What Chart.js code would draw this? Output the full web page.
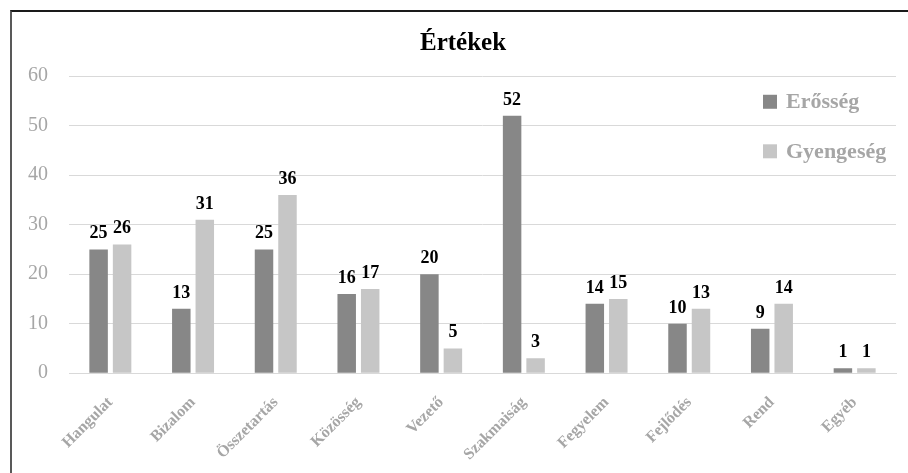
<!DOCTYPE html>
<html>
<head>
<meta charset="utf-8">
<script src="https://cdn.jsdelivr.net/npm/chart.js@4/dist/chart.umd.min.js"></script>
<style>
  html, body { margin: 0; padding: 0; background: #ffffff; overflow: hidden; }
  #wrap { position: relative; width: 908px; height: 473px; overflow: hidden; }
  #frame { position: absolute; left: 10px; top: 10px; width: 1000px; height: 600px;
           border-left: 2px solid #595959; border-top: 2px solid #1a1a1a; box-sizing: border-box; pointer-events: none; }
  canvas { position: absolute; left: 0; top: 0; }
</style>
</head>
<body>
<div id="wrap">
  <canvas id="c" width="908" height="490"></canvas>
  <div id="frame"></div>
</div>
<script>
const categories = ["Hangulat", "Bizalom", "Összetartás", "Közösség", "Vezető", "Szakmaiság", "Fegyelem", "Fejlődés", "Rend", "Egyéb"];
const seriesNames = ["Erősség", "Gyengeség"];
const strengthValues = [25, 13, 25, 16, 20, 52, 14, 10, 9, 1];
const weaknessValues = [26, 31, 36, 17, 5, 3, 15, 13, 14, 1];
const yTicks = [0, 10, 20, 30, 40, 50, 60];
const chartTitle = "Értékek";

const SERIF = '"Liberation Serif", "Times New Roman", serif';
const colors = ["#878787", "#c6c6c6"];

const valueLabels = {
  id: 'valueLabels',
  afterDatasetsDraw(chart) {
    const ctx = chart.ctx;
    ctx.save();
    ctx.font = 'bold 18px ' + SERIF;
    ctx.fillStyle = '#000000';
    ctx.textAlign = 'center';
    ctx.textBaseline = 'alphabetic';
    chart.data.datasets.forEach((ds, di) => {
      const meta = chart.getDatasetMeta(di);
      meta.data.forEach((el, i) => {
        ctx.fillText(String(ds.data[i]), el.x, el.y - 11);
      });
    });
    ctx.restore();
  }
};

const titlePlugin = {
  id: 'titlePlugin',
  afterDraw(chart) {
    const ctx = chart.ctx;
    ctx.save();
    ctx.font = 'bold 25px ' + SERIF;
    ctx.fillStyle = '#000000';
    ctx.textAlign = 'center';
    ctx.textBaseline = 'middle';
    ctx.fillText(chartTitle, chart.width / 2 + 9, 44);
    ctx.restore();
  }
};

const sideLegend = {
  id: 'sideLegend',
  afterDraw(chart) {
    const ctx = chart.ctx;
    const area = chart.chartArea;
    const yScale = chart.scales.y;
    ctx.save();
    ctx.font = 'bold 22px ' + SERIF;
    ctx.textBaseline = 'middle';
    ctx.textAlign = 'left';
    chart.data.datasets.forEach((ds, di) => {
      const cy = yScale.getPixelForValue(55 - di * 10) + 1;
      const sx = area.right - 133;
      ctx.fillStyle = ds.backgroundColor;
      ctx.fillRect(sx, cy - 7, 14, 14);
      ctx.fillStyle = '#a6a6a6';
      ctx.fillText(ds.label, sx + 23, cy + 1);
    });
    ctx.restore();
  }
};

new Chart(document.getElementById('c'), {
  type: 'bar',
  data: {
    labels: categories,
    datasets: [
      { label: seriesNames[0], data: strengthValues, backgroundColor: colors[0] },
      { label: seriesNames[1], data: weaknessValues, backgroundColor: colors[1] }
    ]
  },
  options: {
    responsive: false,
    animation: false,
    devicePixelRatio: 1,
    categoryPercentage: 0.568,
    barPercentage: 0.787,
    layout: { padding: { left: 7, right: 12, top: 76, bottom: 6 } },
    plugins: {
      legend: { display: false },
      tooltip: { enabled: false },
      title: { display: false }
    },
    scales: {
      x: {
        grid: { display: false, drawTicks: false },
        border: { display: true, color: '#d9d9d9', width: 1 },
        ticks: {
          color: '#a6a6a6',
          font: { family: SERIF, size: 16, weight: 'bold' },
          maxRotation: 45,
          minRotation: 45,
          padding: 20,
          autoSkip: false
        }
      },
      y: {
        min: 0,
        max: 60,
        afterBuildTicks(scale) { scale.ticks = yTicks.map(v => ({ value: v })); },
        grid: { color: '#d9d9d9', lineWidth: 1, drawTicks: false },
        border: { display: false },
        ticks: {
          color: '#a6a6a6',
          font: { family: SERIF, size: 20 },
          padding: 21
        }
      }
    }
  },
  plugins: [valueLabels, titlePlugin, sideLegend]
});
</script>
</body>
</html>
